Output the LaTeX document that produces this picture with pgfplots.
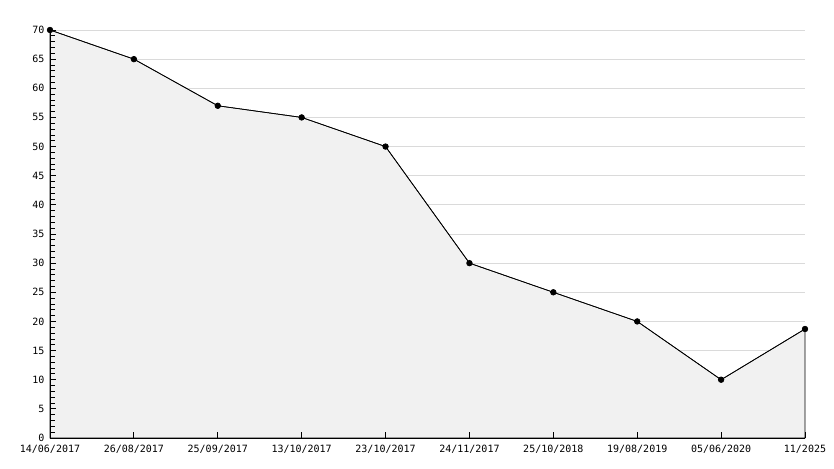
\documentclass[border=0pt]{standalone}
\usepackage{fontspec}
\setmainfont{DejaVu Sans Mono}
\usepackage{pgfplots}
\pgfplotsset{compat=1.18}
\definecolor{fillgray}{RGB}{241,241,241}
\definecolor{gridgray}{RGB}{218,218,218}
\pgfplotsset{
  common/.style={
    scale only axis,
    width=755pt, height=408pt,
    at={(0,0)}, anchor=south west,
    xmin=0, xmax=9, ymin=0, ymax=70,
    clip=false,
  },
}
\begin{document}
\begin{tikzpicture}
\useasboundingbox (-50pt,-30pt) rectangle (784pt,438pt);
\begin{axis}[
  common,
  axis line style={draw=none},
  ytick={0,5,...,70},
  xtick=\empty,
  ymajorgrids,
  grid style={gridgray, line width=0.8pt},
  tick style={draw=none},
  yticklabels={},
]
\addplot[fill=fillgray, draw=black, line width=0.7pt] coordinates {
  (0,70) (1,65) (2,57) (3,55) (4,50) (5,30) (6,25) (7,20) (8,10) (9,18.7)
} \closedcycle;
\end{axis}
\begin{axis}[
  common,
  axis x line*=bottom, axis y line*=left,
  axis line style={black, line width=1pt, -},
  xtick={0,...,9},
  xticklabels={14/06/2017,26/08/2017,25/09/2017,13/10/2017,23/10/2017,24/11/2017,25/10/2018,19/08/2019,05/06/2020,11/2025},
  ytick={0,5,...,70},
  minor y tick num=4,
  tick align=inside,
  major tick length=6pt,
  minor tick length=4.5pt,
  tick style={black, line width=0.8pt},
  tick label style={font=\fontsize{10}{12}\selectfont},
  /pgf/number format/assume math mode=true,
  xticklabel style={yshift=-4pt},
  yticklabel style={xshift=-2pt},
]
\addplot[black, line width=0.7pt, mark=*, mark size=2.8pt] coordinates {
  (0,70) (1,65) (2,57) (3,55) (4,50) (5,30) (6,25) (7,20) (8,10) (9,18.7)
};
\end{axis}
\end{tikzpicture}
\end{document}
